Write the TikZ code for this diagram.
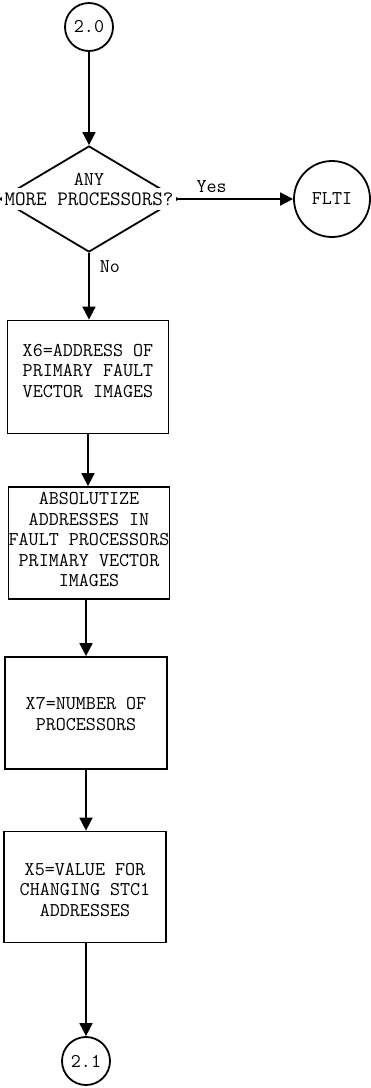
\documentclass[tikz,border=0pt]{standalone}
\usepackage{fontspec}
\usetikzlibrary{shapes.geometric,arrows.meta}
\begin{document}
\begin{tikzpicture}[x=1pt,y=-1pt,
  every node/.style={font=\ttfamily\fontsize{19.5pt}{20.5pt}\selectfont},
  conn/.style={circle,draw,line width=1.8pt,minimum size=48pt,inner sep=0pt},
  box/.style={rectangle,draw,line width=1.8pt,inner sep=0pt},
  txt/.style={align=center,inner sep=0pt},
  arr/.style={line width=1.8pt,-{Triangle[length=13pt,width=13pt]}},
  lbl/.style={inner sep=0pt}]
\useasboundingbox (0,0) rectangle (371,1088);
\node[conn] (c20) at (89,27) {2.0};
\node[diamond,draw,line width=1.8pt,minimum width=178pt,minimum height=106pt,inner sep=0pt] (d) at (89,199) {};
\node[txt] (dany) at (89,179) {ANY};
\node[txt,fill=white,inner xsep=3pt,inner ysep=4pt,font=\ttfamily\fontsize{20.5pt}{21pt}\selectfont] (dq) at (89,199) {MORE PROCESSORS?};
\node[conn,minimum size=76pt] (fl) at (332,199) {FLTI};
\node[box,minimum width=161pt,minimum height=113pt] (b1) at (88,377) {};
\node[txt] at (88,371) {X6=ADDRESS OF\\PRIMARY FAULT\\VECTOR IMAGES};
\node[box,minimum width=161pt,minimum height=112pt] (b2) at (89,543) {};
\node[txt] at (89,540) {ABSOLUTIZE\\ADDRESSES IN\\FAULT PROCESSORS\\PRIMARY VECTOR\\IMAGES};
\node[box,minimum width=162pt,minimum height=112pt] (b3) at (86,713) {};
\node[txt] at (86,714) {X7=NUMBER OF\\PROCESSORS};
\node[box,minimum width=162pt,minimum height=111pt] (b4) at (85,887) {};
\node[txt] at (85,890) {X5=VALUE FOR\\CHANGING STC1\\ADDRESSES};
\node[conn] (c21) at (86,1061) {2.1};
\draw[arr] (c20) -- (d.north);
\draw[arr] (dq.east) -- (fl.west) node[lbl,pos=0.3,above=5pt] {Yes};
\draw[arr] (d.south) -- (b1.north -| d.south) node[lbl,pos=0.2,right=10pt] {No};
\draw[arr] (b1.south) -- (b1.south |- b2.north);
\draw[arr] (b3.north |- b2.south) -- (b3.north);
\draw[arr] (b3.south) -- (b3.south |- b4.north);
\draw[arr] (c21.north |- b4.south) -- (c21.north);
\end{tikzpicture}
\end{document}
